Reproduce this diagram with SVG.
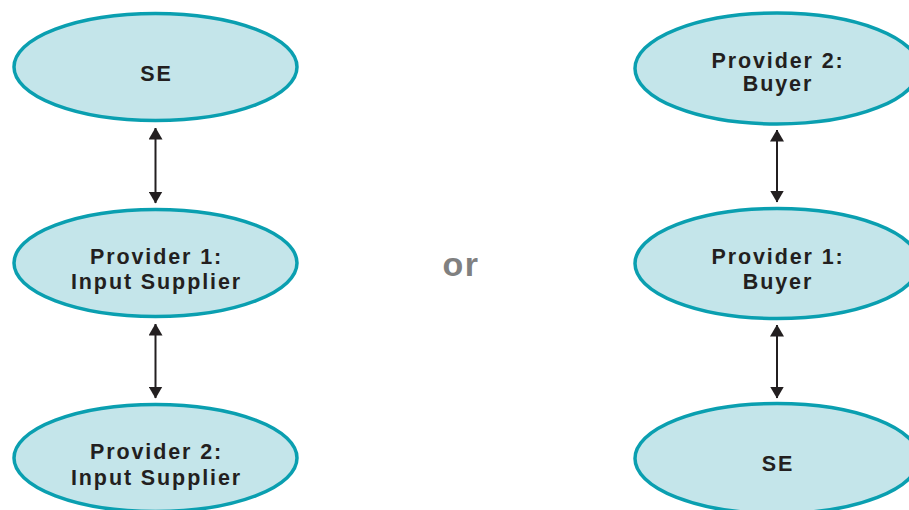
<svg xmlns="http://www.w3.org/2000/svg" width="909" height="510" viewBox="0 0 909 510">
  <defs>
    <style>
      .node ellipse { fill: #c4e5ea; stroke: #0a9fb0; stroke-width: 3.5; }
      .node text { font-family: "Liberation Sans", Arial, sans-serif; font-weight: bold; font-size: 21.5px; letter-spacing: 1.9px; fill: #231f20; text-anchor: middle; }
      .link { stroke: #231f20; stroke-width: 2; fill: none; marker-start: url(#head); marker-end: url(#head); }
      .or { font-family: "Liberation Sans", Arial, sans-serif; font-weight: bold; font-size: 34px; letter-spacing: 1.5px; fill: #808080; text-anchor: middle; }
    </style>
    <marker id="head" markerUnits="userSpaceOnUse" markerWidth="12" markerHeight="14" viewBox="0 0 12 14" refX="11.5" refY="7" orient="auto-start-reverse">
      <path d="M0,0 L12,7 L0,14 z" fill="#231f20"/>
    </marker>
  </defs>

  <rect width="909" height="510" fill="#ffffff"/>

  <!-- left chain -->
  <g id="se-left" class="node">
    <ellipse cx="155.5" cy="67" rx="141.5" ry="53.5"/>
    <text x="156.5" y="81">SE</text>
  </g>
  <g id="provider1-input" class="node">
    <ellipse cx="155.5" cy="263" rx="141.5" ry="53.5"/>
    <text x="156.5" y="264">Provider 1:</text>
    <text x="156.5" y="289">Input Supplier</text>
  </g>
  <g id="provider2-input" class="node">
    <ellipse cx="155.5" cy="458" rx="141.5" ry="53.5"/>
    <text x="156.5" y="459">Provider 2:</text>
    <text x="156.5" y="485">Input Supplier</text>
  </g>

  <!-- right chain -->
  <g id="provider2-buyer" class="node">
    <ellipse cx="777" cy="68.5" rx="142" ry="55.5"/>
    <text x="778" y="68">Provider 2:</text>
    <text x="778" y="91">Buyer</text>
  </g>
  <g id="provider1-buyer" class="node">
    <ellipse cx="777" cy="263.5" rx="142" ry="55"/>
    <text x="778" y="264">Provider 1:</text>
    <text x="778" y="289">Buyer</text>
  </g>
  <g id="se-right" class="node">
    <ellipse cx="777" cy="458.5" rx="142" ry="55"/>
    <text x="778" y="471">SE</text>
  </g>

  <text class="or" x="461" y="276">or</text>

  <!-- two-way links -->
  <g id="connectors">
    <line class="link" x1="155.5" y1="128" x2="155.5" y2="203"/>
    <line class="link" x1="155.5" y1="324" x2="155.5" y2="398"/>
    <line class="link" x1="777" y1="130" x2="777" y2="202"/>
    <line class="link" x1="777" y1="325" x2="777" y2="398"/>
  </g>
</svg>
